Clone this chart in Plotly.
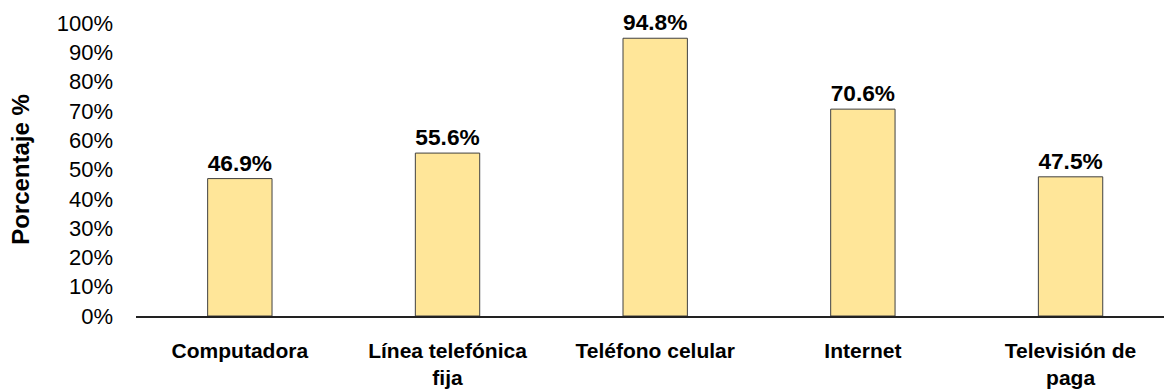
import plotly.graph_objects as go

categorias = ["Computadora", "Línea telefónica<br>fija", "Teléfono celular", "Internet", "Televisión de<br>paga"]
porcentajes = [46.9, 55.6, 94.8, 70.6, 47.5]
marcas_y = [0, 10, 20, 30, 40, 50, 60, 70, 80, 90, 100]
etiquetas_y = [f"{v}%" for v in marcas_y]

fig = go.Figure(
    go.Bar(
        x=categorias,
        y=porcentajes,
        width=0.31,
        marker=dict(color="#FFE699", line=dict(color="#404040", width=1)),
        text=[f"{v:.1f}%" for v in porcentajes],
        textposition="outside",
        textfont=dict(family="Liberation Sans, Arial", size=23, color="#000000", weight="bold"),
        cliponaxis=False,
    )
)

fig.update_layout(
    width=1164,
    height=389,
    margin=dict(l=136, r=0, t=23, b=73),
    paper_bgcolor="white",
    plot_bgcolor="white",
    showlegend=False,
    font=dict(family="Liberation Sans, Arial", color="#000000"),
    xaxis=dict(
        range=[-0.5, 4.45],
        automargin=False,
        showline=True,
        linecolor="#222222",
        linewidth=1.5,
        showgrid=False,
        ticks="",
        ticklabelstandoff=15,
        tickfont=dict(size=21, weight="bold"),
    ),
    yaxis=dict(
        range=[0, 100],
        automargin=False,
        tickvals=marcas_y,
        ticktext=etiquetas_y,
        showgrid=False,
        showline=False,
        zeroline=False,
        ticks="",
        ticklabelstandoff=22,
        tickfont=dict(size=22),
        title=dict(text="Porcentaje %", font=dict(size=24, weight="bold"), standoff=20),
    ),
)

fig.write_html("out.html")
